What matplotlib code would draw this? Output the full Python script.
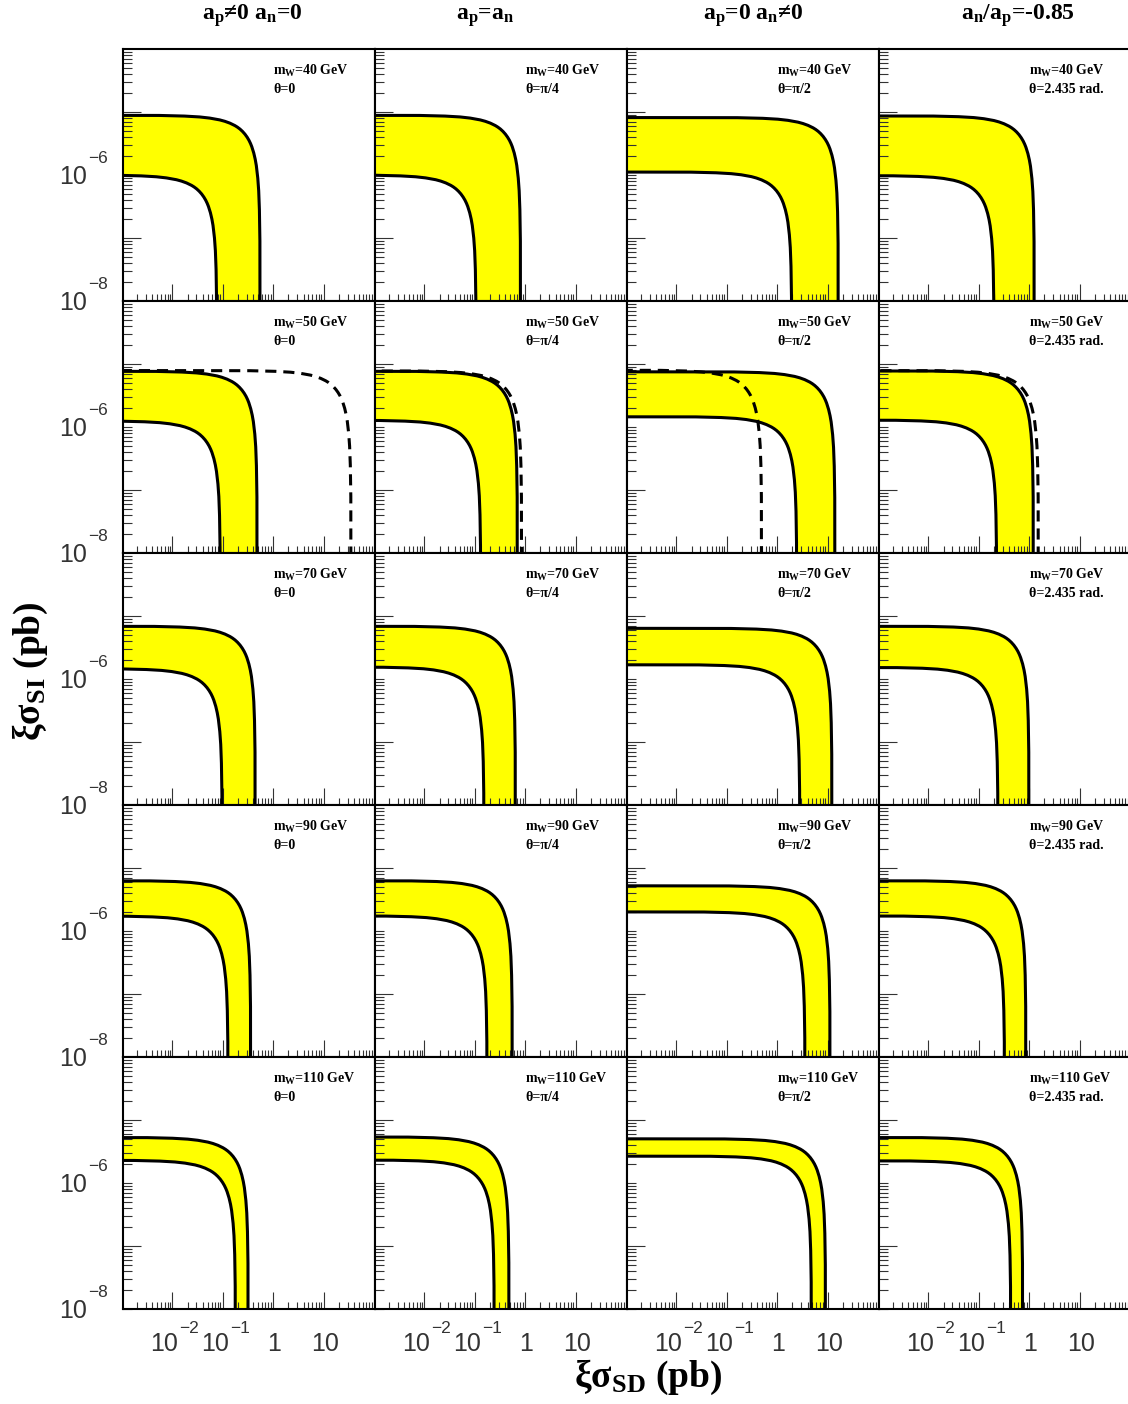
import numpy as np
import matplotlib.pyplot as plt

plt.rcParams['mathtext.fontset'] = 'custom'
plt.rcParams['mathtext.rm'] = 'Liberation Serif'
plt.rcParams['mathtext.bf'] = 'Liberation Serif:bold'
plt.rcParams['mathtext.it'] = 'Liberation Serif:italic'
plt.rcParams['lines.scale_dashes'] = False

# ---- data ----
# columns = coupling choice, rows = WIMP mass
col_titles = [r'a$_{\mathbf{p}}$≠0 a$_{\mathbf{n}}$=0',
              r'a$_{\mathbf{p}}$=a$_{\mathbf{n}}$',
              r'a$_{\mathbf{p}}$=0 a$_{\mathbf{n}}$≠0',
              r'a$_{\mathbf{n}}$/a$_{\mathbf{p}}$=-0.85']
theta_labels = ['θ=0', 'θ=π/4', 'θ=π/2', 'θ=2.435 rad.']
masses = [40, 50, 70, 90, 110]

# asymptotes of the outer / inner contour of each band (pb)
outer_si = [[8.9e-6, 8.9e-6, 8.2e-6, 8.7e-6],
            [7.7e-6, 7.7e-6, 7.55e-6, 7.8e-6],
            [6.9e-6, 6.9e-6, 6.4e-6, 6.9e-6],
            [6.3e-6, 6.3e-6, 5.24e-6, 6.3e-6],
            [5.3e-6, 5.4e-6, 5.05e-6, 5.3e-6]]
outer_sd = [[0.55, 0.81, 16.3, 1.26],
            [0.48, 0.70, 14.0, 1.21],
            [0.44, 0.64, 12.2, 0.99],
            [0.358, 0.555, 11.2, 0.86],
            [0.319, 0.478, 9.1, 0.743]]
inner_si = [[1.0e-6, 1.0e-6, 1.12e-6, 9.8e-7],
            [1.25e-6, 1.28e-6, 1.46e-6, 1.29e-6],
            [1.46e-6, 1.55e-6, 1.69e-6, 1.53e-6],
            [1.73e-6, 1.74e-6, 2.02e-6, 1.74e-6],
            [2.3e-6, 2.32e-6, 2.68e-6, 2.26e-6]]
inner_sd = [[0.076, 0.106, 1.94, 0.20],
            [0.089, 0.131, 2.44, 0.226],
            [0.097, 0.152, 2.81, 0.24],
            [0.127, 0.175, 3.56, 0.324],
            [0.178, 0.243, 4.77, 0.43]]
# dashed contour, only in the m_W=50 GeV row
dashed_row = 1
dashed_si = [7.9e-6, 7.8e-6, 8.0e-6, 7.9e-6]
dashed_sd = [35.0, 0.85, 0.49, 1.52]

# rounded corner shared by all contours: offsets (decades) from the asymptotes
corner_dsd = [-6, -2, -1.5, -1.2, -1.0, -0.8, -0.7, -0.6, -0.5, -0.45, -0.4,
              -0.35, -0.301, -0.257, -0.22, -0.19, -0.165, -0.126, -0.097,
              -0.075, -0.046, -0.028, -0.014, -0.004, 0.0]
corner_dsi = [0.0, -0.004, -0.014, -0.028, -0.046, -0.075, -0.097, -0.126,
              -0.165, -0.19, -0.22, -0.257, -0.301, -0.35, -0.4, -0.45, -0.5,
              -0.6, -0.7, -0.8, -1.0, -1.2, -1.5, -2, -6]

x_major = [1e-2, 1e-1, 1, 10]
y_major = [1e-7, 1e-5]


def contour(si, sd):
    return sd * 10 ** np.array(corner_dsd), si * 10 ** np.array(corner_dsi)


W, H = 1128, 1404
fig = plt.figure(figsize=(W / 100, H / 100), dpi=100)
lab_font = dict(family='Liberation Sans', color='#333333')

for r in range(5):
    for c in range(4):
        ax = fig.add_axes([(123 + 252 * c) / W, 1 - (49 + 252 * (r + 1)) / H,
                           252 / W, 252 / H])
        ax.set_xscale('log')
        ax.set_yscale('log')

        xo, yo = contour(outer_si[r][c], outer_sd[r][c])
        xi, yi = contour(inner_si[r][c], inner_sd[r][c])
        ax.fill(np.r_[xo, xi[::-1]], np.r_[yo, yi[::-1]], color='#ffff00', lw=0)
        ax.plot(xo, yo, color='black', lw=2.2)
        ax.plot(xi, yi, color='black', lw=2.2)
        if r == dashed_row:
            xd, yd = contour(dashed_si[c], dashed_sd[c])
            ax.plot(xd, yd, color='black', lw=2.2, ls=(0, (8, 5)))

        ax.set_xlim(10 ** -2.98, 10 ** 2.02)
        ax.set_ylim(1e-8, 1e-4)
        ax.set_xticks(x_major)
        ax.set_xticks([m * 10.0 ** e for e in range(-3, 2) for m in range(2, 10)],
                      minor=True)
        ax.set_yticks(y_major)
        ax.set_yticks([m * 10.0 ** e for e in range(-8, -4) for m in range(1, 10)
                       if m * 10.0 ** e not in y_major], minor=True)
        ax.tick_params(which='both', direction='in', top=False, right=False,
                       labelbottom=False, labelleft=False, width=0.8,
                       color='#333333')
        ax.tick_params(axis='x', which='major', length=12)
        ax.tick_params(axis='x', which='minor', length=5)
        ax.tick_params(axis='y', which='major', length=13)
        ax.tick_params(axis='y', which='minor', length=6.5)
        for s in ax.spines.values():
            s.set_linewidth(1.5)

        txt = dict(xycoords='axes fraction', textcoords='offset pixels',
                   ha='left', va='baseline', fontsize=10, fontweight='bold',
                   family='Liberation Serif')
        ax.annotate(r'm$_{\mathbf{W}}$=%d GeV' % masses[r], xy=(0, 1),
                    xytext=(150, -26), **txt)
        ax.annotate(theta_labels[c], xy=(0, 1), xytext=(150, -44), **txt)

        # ROOT style y labels
        if c == 0:
            for v, e in [(1e-6, '−6'), (1e-8, '−8')]:
                kw = dict(xy=(0, v), xycoords=('axes fraction', 'data'),
                          textcoords='offset pixels', va='baseline',
                          annotation_clip=False, **lab_font)
                ax.annotate('10', xytext=(-36, -9), ha='right', fontsize=18, **kw)
                ax.annotate(e, xytext=(-35, 12), ha='left', fontsize=12.5, **kw)

        # x labels on the bottom row
        if r == 4:
            for v, e in [(1e-2, '−2'), (1e-1, '−1'), (1, None), (10, None)]:
                kw = dict(xy=(v, 0), xycoords=('data', 'axes fraction'),
                          textcoords='offset pixels', va='baseline',
                          annotation_clip=False, **lab_font)
                if e is None:
                    ax.annotate('%g' % v, xytext=(1, -42), ha='center',
                                fontsize=18, **kw)
                else:
                    ax.annotate('10', xytext=(6, -42), ha='right', fontsize=18, **kw)
                    ax.annotate(e, xytext=(7, -24), ha='left', fontsize=12.5, **kw)

title_x = [252, 485, 753, 1018]
for t, x in zip(col_titles, title_x):
    fig.text(x / W, 1 - 20 / H, t, ha='center', va='baseline', fontsize=17,
             fontweight='bold', family='Liberation Serif')

fig.text(30 / W, 1 - 671 / H, r'ξσ$_{\mathbf{SI}}$ (pb)', rotation=90,
         ha='center', va='center', fontsize=27, fontweight='bold',
         family='Liberation Serif')
fig.text(648 / W, 1 - 1377 / H, r'ξσ$_{\mathbf{SD}}$ (pb)', ha='center',
         va='center', fontsize=27, fontweight='bold', family='Liberation Serif')

fig.savefig('out.png', dpi=100)
